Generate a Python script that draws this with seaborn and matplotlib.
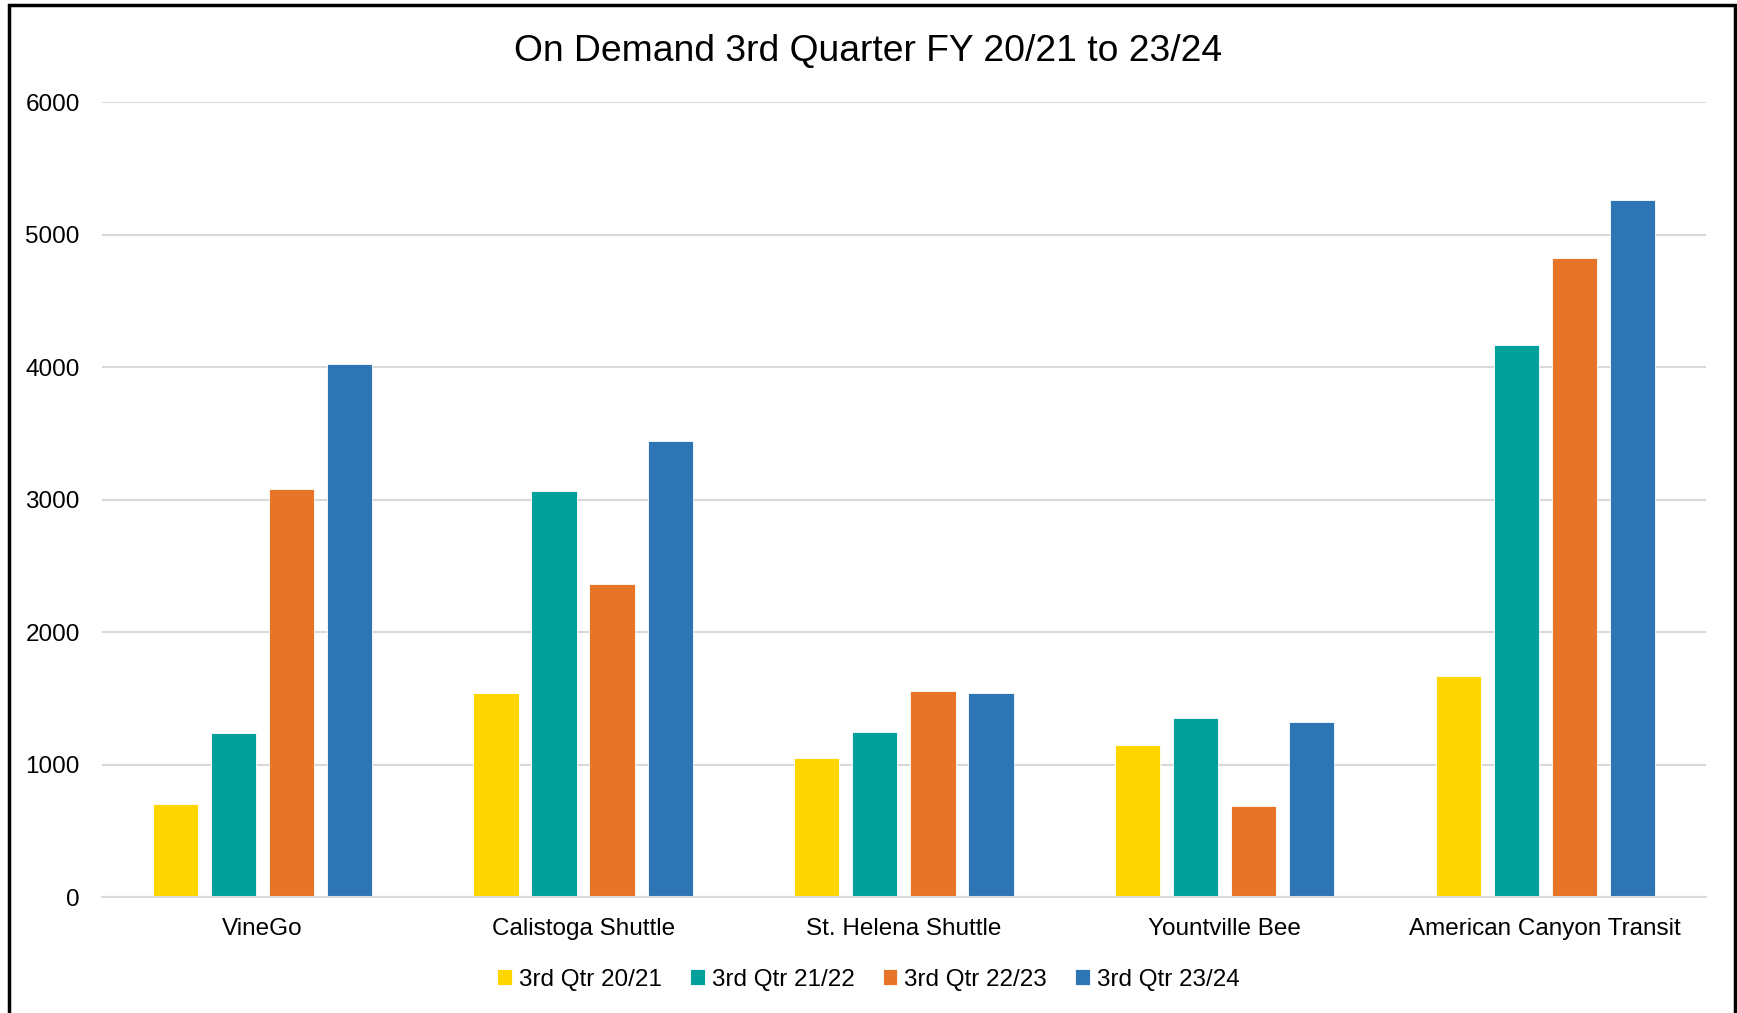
import pandas as pd
import matplotlib.pyplot as plt
import seaborn as sns
from matplotlib.patches import Rectangle

servicios = ['VineGo', 'Calistoga Shuttle', 'St. Helena Shuttle', 'Yountville Bee', 'American Canyon Transit']
trimestres = ['3rd Qtr 20/21', '3rd Qtr 21/22', '3rd Qtr 22/23', '3rd Qtr 23/24']

q_20_21 = [702, 1538, 1053, 1145, 1671]
q_21_22 = [1237, 3067, 1245, 1354, 4170]
q_22_23 = [3083, 2365, 1554, 685, 4822]
q_23_24 = [4028, 3443, 1538, 1320, 5265]

colores = ['#FFD600', '#00A19A', '#E87428', '#2E75B6']

df = pd.DataFrame({
    'servicio': servicios * 4,
    'trimestre': [t for t in trimestres for _ in servicios],
    'viajes': q_20_21 + q_21_22 + q_22_23 + q_23_24,
})

sns.set_theme(style='white')
plt.rcParams['font.family'] = ['Liberation Sans', 'DejaVu Sans']
plt.rcParams['text.color'] = 'black'

fig = plt.figure(figsize=(17.37, 10.13), dpi=100)
ax = fig.add_axes([0.0587, 0.1145, 0.9233, 0.7845])

sns.barplot(data=df, x='servicio', y='viajes', hue='trimestre', palette=colores,
            saturation=1, width=0.724, gap=0.22, ax=ax, edgecolor='white', linewidth=0.6)

ax.set_ylim(0, 6000)
ax.set_yticks(range(0, 6001, 1000))
ax.yaxis.grid(True, color='#d9d9d9', linewidth=1.5)
ax.set_axisbelow(True)
for s in ['top', 'right', 'left']:
    ax.spines[s].set_visible(False)
ax.spines['bottom'].set_color('#d9d9d9')
ax.spines['bottom'].set_linewidth(1.5)
ax.tick_params(axis='x', length=0, pad=15, labelsize=17.5, colors='black')
ax.tick_params(axis='y', length=0, pad=16, labelsize=17.5, colors='black')
ax.set_xlabel('')
ax.set_ylabel('')

fig.suptitle('On Demand 3rd Quarter FY 20/21 to 23/24', y=0.949, va='center',
             fontsize=26.8, color='black')

ax.get_legend().remove()
h, l = ax.get_legend_handles_labels()
fig.legend(h, l, loc='center', bbox_to_anchor=(0.5, 0.033), ncol=4, frameon=False,
           fontsize=17.5, handlelength=0.6, handleheight=0.6, handletextpad=0.3,
           columnspacing=1.15)

fig.patches.append(Rectangle((9 / 1737, -0.01), (1735 - 9) / 1737, 1.01 - 5 / 1013,
                             transform=fig.transFigure, fill=False,
                             edgecolor='black', linewidth=2.5))

plt.savefig('out.png', dpi=100)
